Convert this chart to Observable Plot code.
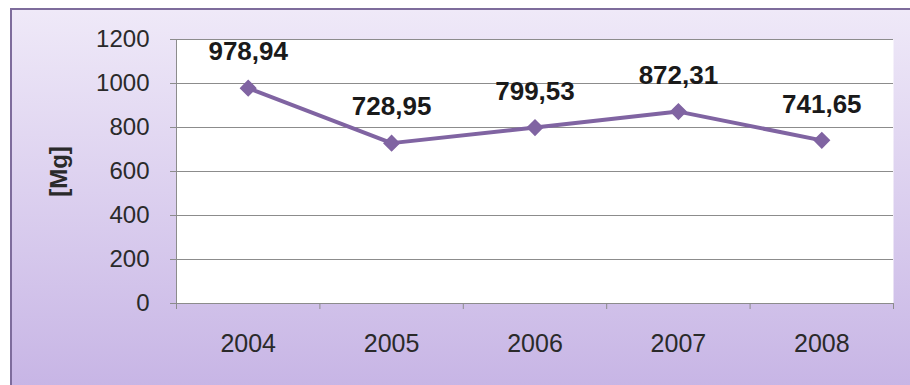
<!DOCTYPE html>
<html><head><meta charset="utf-8">
<script src="https://cdn.jsdelivr.net/npm/d3@7"></script>
<script src="https://cdn.jsdelivr.net/npm/@observablehq/plot@0.6"></script>
<style>
body{margin:0;background:#fff;}
#wrap{position:relative;width:910px;height:385px;overflow:hidden;}
#bg{position:absolute;left:10px;top:8px;width:920px;height:400px;border-left:2px solid #7e6c9c;border-top:2px solid #7e6c9c;background:linear-gradient(#efe9f8,#c5b2e4);}
#chart{position:absolute;left:0;top:0;}
</style></head><body><div id="wrap"><div id="bg"></div><div id="chart"></div></div>
<script>
const years = [2004, 2005, 2006, 2007, 2008];
const values = [978.94, 728.95, 799.53, 872.31, 741.65];
const yTicks = [0, 200, 400, 600, 800, 1000, 1200];
const yLabel = "[Mg]";

const data = years.map((year, i) => ({year, value: values[i], label: values[i].toFixed(2).replace(".", ",")}));
const boundaries = years.map(y => y - 0.5).concat([years[years.length - 1] + 0.5]);
const font = "Arial, 'Liberation Sans', sans-serif";

const chart = Plot.plot({
  width: 910, height: 385,
  marginLeft: 176, marginRight: 17, marginTop: 39, marginBottom: 82,
  style: {background: "transparent", fontFamily: font, color: "#2a2a2a"},
  x: {domain: [boundaries[0], boundaries[boundaries.length - 1]]},
  y: {domain: [yTicks[0], yTicks[yTicks.length - 1]]},
  marks: [
    Plot.frame({fill: "white", stroke: null}),
    Plot.gridY(yTicks, {stroke: "#8c8c8c", strokeOpacity: 1}),
    Plot.axisY(yTicks, {tickSize: 6, tickPadding: 21, fontSize: 24, stroke: "#8c8c8c", tickFormat: d => String(d), label: null}),
    Plot.ruleX(boundaries.slice(0, 1), {stroke: "#8c8c8c"}),
    Plot.ruleY(yTicks.slice(0, 1), {stroke: "#8c8c8c"}),
    Plot.axisX(boundaries, {tickSize: 6, tickFormat: () => "", stroke: "#8c8c8c", label: null}),
    Plot.axisX(years, {tickSize: 0, tickPadding: 31, fontSize: 25, tickFormat: d => String(d), label: null}),
    Plot.text([yLabel], {frameAnchor: "left", rotate: -90, dx: -117, textAnchor: "middle", fontSize: 24, fontWeight: "bold", fill: "#2a2a2a"}),
    Plot.line(data, {x: "year", y: "value", stroke: "#8064a2", strokeWidth: 4}),
    Plot.dot(data, {x: "year", y: "value", symbol: "square", rotate: 45, r: 6, fill: "#8064a2", stroke: "#8064a2"}),
    Plot.text(data, {x: "year", y: "value", text: "label", dy: -36, fontSize: 26, fontWeight: "bold", fill: "#1a1a1a"})
  ]
});
document.getElementById("chart").appendChild(chart);
</script>
</body></html>
